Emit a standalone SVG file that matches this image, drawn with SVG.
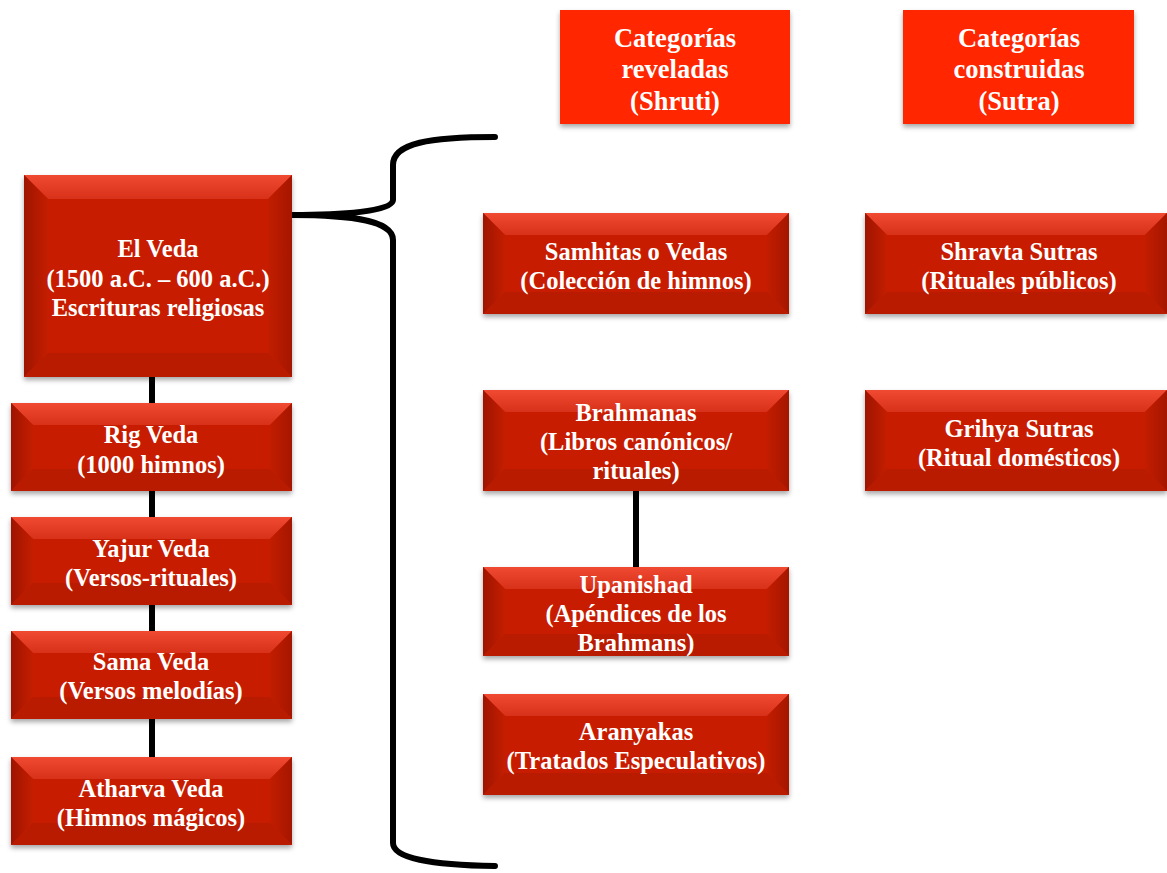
<svg xmlns="http://www.w3.org/2000/svg" width="1167" height="873" viewBox="0 0 1167 873">
<defs>
<filter id="sh" x="-10%" y="-10%" width="120%" height="130%">
<feDropShadow dx="0" dy="3" stdDeviation="2.5" flood-color="#000" flood-opacity="0.35"/>
</filter>
<linearGradient id="gl" x1="0" y1="0" x2="1" y2="0">
<stop offset="0" stop-color="#9e1400"/><stop offset="1" stop-color="#c41e00"/>
</linearGradient>
<linearGradient id="gr" x1="0" y1="0" x2="1" y2="0">
<stop offset="0" stop-color="#c21d00"/><stop offset="1" stop-color="#a51600"/>
</linearGradient>
<linearGradient id="gt" x1="0" y1="0" x2="0" y2="1">
<stop offset="0" stop-color="#f04a33"/><stop offset="1" stop-color="#d8311a"/>
</linearGradient>
</defs>
<style>
.base{fill:#c81e00;filter:url(#sh)}
.t{fill:url(#gt)}
.l{fill:url(#gl)}
.r{fill:url(#gr)}
.b{fill:#b91b00}
.flat{fill:#ff2600;filter:url(#sh)}
text{font-family:"Liberation Serif","Times New Roman",serif;font-weight:bold;fill:#fff;text-anchor:middle;font-size:24.5px}
.hd{font-size:26.5px}
.ln{stroke:#000;stroke-width:6;fill:none}
</style>
<g id="connectors">
<line class="ln" x1="152" y1="370" x2="152" y2="765"/>
<line class="ln" x1="636" y1="485" x2="636" y2="572"/>
<path class="ln" stroke-linecap="round" d="M495,137 C430,137 393,143 393,165 L393,200 C393,212 340,215 291,215 C340,215 393,218 393,240 L393,843 C393,858 430,865 495,866"/>
</g>
<g id="cat-reveladas">
<rect class="flat" x="560" y="10" width="230" height="114"/>
<text class="hd" x="675" y="47">Categorías</text>
<text class="hd" x="675" y="78">reveladas</text>
<text class="hd" x="675" y="110">(Shruti)</text>
</g>
<g id="cat-construidas">
<rect class="flat" x="903" y="10" width="231" height="114"/>
<text class="hd" x="1019" y="47">Categorías</text>
<text class="hd" x="1019" y="78">construidas</text>
<text class="hd" x="1019" y="110">(Sutra)</text>
</g>
<g id="el-veda">
<rect class="base" x="24" y="175" width="268" height="202"/>
<polygon class="t" points="24,175 292,175 268,199 48,199"/>
<polygon class="l" points="24,175 48,199 48,353 24,377"/>
<polygon class="r" points="292,175 292,377 268,353 268,199"/>
<polygon class="b" points="24,377 292,377 268,353 48,353"/>
<text x="158" y="257">El Veda</text>
<text x="158" y="287">(1500 a.C. – 600 a.C.)</text>
<text x="158" y="316">Escrituras religiosas</text>
</g>
<g id="rig-veda">
<rect class="base" x="11" y="403" width="281" height="88"/>
<polygon class="t" points="11,403 292,403 270,425 33,425"/>
<polygon class="l" points="11,403 33,425 33,469 11,491"/>
<polygon class="r" points="292,403 292,491 270,469 270,425"/>
<polygon class="b" points="11,491 292,491 270,469 33,469"/>
<text x="151" y="443">Rig Veda</text>
<text x="151" y="473">(1000 himnos)</text>
</g>
<g id="yajur-veda">
<rect class="base" x="11" y="517" width="281" height="88"/>
<polygon class="t" points="11,517 292,517 270,539 33,539"/>
<polygon class="l" points="11,517 33,539 33,583 11,605"/>
<polygon class="r" points="292,517 292,605 270,583 270,539"/>
<polygon class="b" points="11,605 292,605 270,583 33,583"/>
<text x="151" y="557">Yajur Veda</text>
<text x="151" y="586">(Versos-rituales)</text>
</g>
<g id="sama-veda">
<rect class="base" x="11" y="631" width="281" height="88"/>
<polygon class="t" points="11,631 292,631 270,653 33,653"/>
<polygon class="l" points="11,631 33,653 33,697 11,719"/>
<polygon class="r" points="292,631 292,719 270,697 270,653"/>
<polygon class="b" points="11,719 292,719 270,697 33,697"/>
<text x="151" y="670">Sama Veda</text>
<text x="151" y="699">(Versos melodías)</text>
</g>
<g id="atharva-veda">
<rect class="base" x="11" y="757" width="281" height="88"/>
<polygon class="t" points="11,757 292,757 270,779 33,779"/>
<polygon class="l" points="11,757 33,779 33,823 11,845"/>
<polygon class="r" points="292,757 292,845 270,823 270,779"/>
<polygon class="b" points="11,845 292,845 270,823 33,823"/>
<text x="151" y="797">Atharva Veda</text>
<text x="151" y="826">(Himnos mágicos)</text>
</g>
<g id="samhitas">
<rect class="base" x="483" y="213" width="306" height="101"/>
<polygon class="t" points="483,213 789,213 767,235 505,235"/>
<polygon class="l" points="483,213 505,235 505,292 483,314"/>
<polygon class="r" points="789,213 789,314 767,292 767,235"/>
<polygon class="b" points="483,314 789,314 767,292 505,292"/>
<text x="636" y="260">Samhitas o Vedas</text>
<text x="636" y="289">(Colección de himnos)</text>
</g>
<g id="brahmanas">
<rect class="base" x="483" y="390" width="306" height="101"/>
<polygon class="t" points="483,390 789,390 767,412 505,412"/>
<polygon class="l" points="483,390 505,412 505,469 483,491"/>
<polygon class="r" points="789,390 789,491 767,469 767,412"/>
<polygon class="b" points="483,491 789,491 767,469 505,469"/>
<text x="636" y="421">Brahmanas</text>
<text x="636" y="450">(Libros canónicos/</text>
<text x="636" y="479">rituales)</text>
</g>
<g id="upanishad">
<rect class="base" x="483" y="567" width="306" height="89"/>
<polygon class="t" points="483,567 789,567 767,589 505,589"/>
<polygon class="l" points="483,567 505,589 505,634 483,656"/>
<polygon class="r" points="789,567 789,656 767,634 767,589"/>
<polygon class="b" points="483,656 789,656 767,634 505,634"/>
<text x="636" y="593">Upanishad</text>
<text x="636" y="622">(Apéndices de los</text>
<text x="636" y="651">Brahmans)</text>
</g>
<g id="aranyakas">
<rect class="base" x="483" y="694" width="306" height="101"/>
<polygon class="t" points="483,694 789,694 767,716 505,716"/>
<polygon class="l" points="483,694 505,716 505,773 483,795"/>
<polygon class="r" points="789,694 789,795 767,773 767,716"/>
<polygon class="b" points="483,795 789,795 767,773 505,773"/>
<text x="636" y="740">Aranyakas</text>
<text x="636" y="769">(Tratados Especulativos)</text>
</g>
<g id="shravta">
<rect class="base" x="865" y="213" width="302" height="101"/>
<polygon class="t" points="865,213 1167,213 1145,235 887,235"/>
<polygon class="l" points="865,213 887,235 887,292 865,314"/>
<polygon class="r" points="1167,213 1167,314 1145,292 1145,235"/>
<polygon class="b" points="865,314 1167,314 1145,292 887,292"/>
<text x="1019" y="260">Shravta Sutras</text>
<text x="1019" y="289">(Rituales públicos)</text>
</g>
<g id="grihya">
<rect class="base" x="865" y="390" width="302" height="101"/>
<polygon class="t" points="865,390 1167,390 1145,412 887,412"/>
<polygon class="l" points="865,390 887,412 887,469 865,491"/>
<polygon class="r" points="1167,390 1167,491 1145,469 1145,412"/>
<polygon class="b" points="865,491 1167,491 1145,469 887,469"/>
<text x="1019" y="437">Grihya Sutras</text>
<text x="1019" y="466">(Ritual domésticos)</text>
</g>
</svg>
